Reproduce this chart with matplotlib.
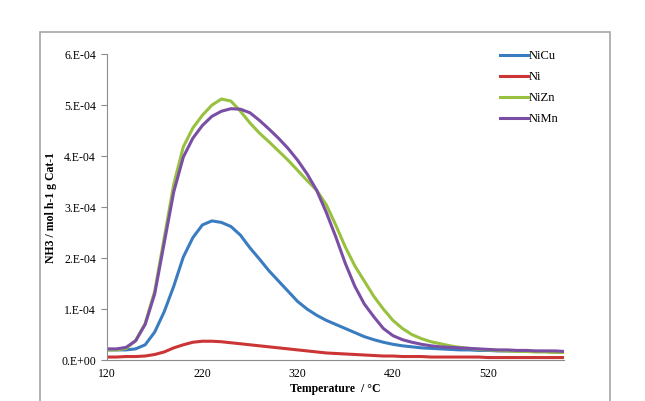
import matplotlib
matplotlib.use("Agg")
import matplotlib.pyplot as plt
from matplotlib.patches import Rectangle
from matplotlib.ticker import FuncFormatter

plt.rcParams.update({"font.family": ["Liberation Serif", "DejaVu Serif"], "font.size": 8.5})

BLUE, RED, GREEN, PURPLE = "#3a7cc0", "#cc3535", "#99c140", "#7b4ea6"

temp = list(range(120, 601, 10))

# values in units of 1e-4 mol h-1 gCat-1
nicu = [0.20, 0.20, 0.20, 0.22, 0.30, 0.55, 0.95, 1.45, 2.02, 2.40,
        2.65, 2.73, 2.70, 2.62, 2.45, 2.20, 1.98, 1.75, 1.55, 1.35,
        1.15, 1.00, 0.88, 0.78, 0.70, 0.62, 0.54, 0.46, 0.40, 0.35,
        0.31, 0.28, 0.26, 0.24, 0.23, 0.22, 0.21, 0.20, 0.20, 0.19,
        0.19, 0.18, 0.18, 0.18, 0.17, 0.17, 0.17, 0.16, 0.16]
ni = [0.06, 0.06, 0.07, 0.07, 0.08, 0.11, 0.16, 0.24, 0.30, 0.35,
      0.37, 0.37, 0.36, 0.34, 0.32, 0.30, 0.28, 0.26, 0.24, 0.22,
      0.20, 0.18, 0.16, 0.14, 0.13, 0.12, 0.11, 0.10, 0.09, 0.08,
      0.08, 0.07, 0.07, 0.07, 0.06, 0.06, 0.06, 0.06, 0.06, 0.06,
      0.05, 0.05, 0.05, 0.05, 0.05, 0.05, 0.05, 0.05, 0.05]
nizn = [0.20, 0.20, 0.23, 0.38, 0.72, 1.35, 2.40, 3.45, 4.18, 4.55,
        4.80, 5.00, 5.12, 5.08, 4.88, 4.65, 4.45, 4.28, 4.10, 3.92,
        3.72, 3.52, 3.33, 3.05, 2.65, 2.22, 1.85, 1.55, 1.25, 1.00,
        0.78, 0.62, 0.50, 0.42, 0.36, 0.32, 0.28, 0.25, 0.23, 0.21,
        0.20, 0.19, 0.18, 0.17, 0.17, 0.16, 0.16, 0.15, 0.15]
nimn = [0.22, 0.22, 0.25, 0.38, 0.70, 1.30, 2.30, 3.30, 3.98, 4.35,
        4.60, 4.78, 4.88, 4.93, 4.92, 4.85, 4.70, 4.53, 4.35, 4.15,
        3.92, 3.65, 3.33, 2.90, 2.42, 1.90, 1.45, 1.10, 0.85, 0.62,
        0.48, 0.40, 0.35, 0.31, 0.28, 0.26, 0.25, 0.24, 0.23, 0.22,
        0.21, 0.20, 0.20, 0.19, 0.19, 0.18, 0.18, 0.18, 0.17]

fig = plt.figure(figsize=(6.45, 4.01), dpi=100)
# chart-area frame like the spreadsheet export
fig.patches.append(Rectangle((0.062, -0.05), 0.884, 0.97, transform=fig.transFigure,
                             fill=False, edgecolor="#a6a6a6", lw=1.2))
ax = fig.add_axes([0.166, 0.102, 0.709, 0.763])

for ys, col, lab in [(nicu, BLUE, "NiCu"), (ni, RED, "Ni"),
                     (nizn, GREEN, "NiZn"), (nimn, PURPLE, "NiMn")]:
    ax.plot(temp, [v * 1e-4 for v in ys], color=col, lw=2.2, label=lab)

ax.set_xlim(120, 600)
ax.set_ylim(0, 6e-4)
ax.set_xticks([120, 220, 320, 420, 520])
ax.set_yticks([i * 1e-4 for i in range(7)])
ax.yaxis.set_major_formatter(FuncFormatter(
    lambda v, p: "0.E+00" if v == 0 else f"{round(v * 1e4):d}.E-04"))
for s in ("top", "right"):
    ax.spines[s].set_visible(False)
for s in ("left", "bottom"):
    ax.spines[s].set_color("#8c8c8c")
ax.tick_params(axis="x", length=0, pad=6)
ax.tick_params(axis="y", length=4, color="#8c8c8c", pad=4)
ax.set_xlabel("Temperature  / °C", fontweight="bold", labelpad=2)
ax.set_ylabel("NH3 / mol h-1 g Cat-1", fontweight="bold", labelpad=3)

leg = ax.legend(loc="upper left", bbox_to_anchor=(0.835, 1.05), frameon=False,
                handlelength=2.2, handletextpad=0.1, labelspacing=0.72, fontsize=9)

fig.savefig("out.png", dpi=100)
